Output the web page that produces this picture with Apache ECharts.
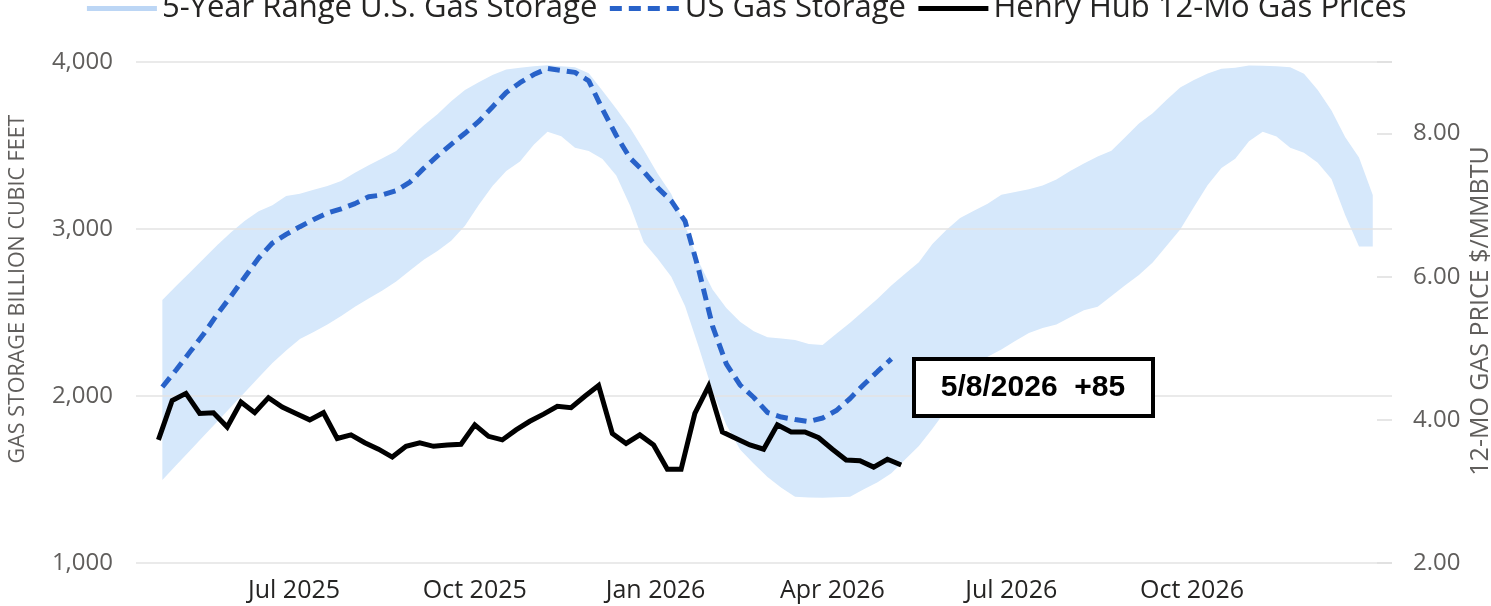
<!DOCTYPE html>
<html>
<head>
<meta charset="utf-8">
<script src="https://cdn.jsdelivr.net/npm/echarts@6/dist/echarts.min.js"></script>
<style>
html,body{margin:0;padding:0;background:#ffffff;}
#chart{width:1491px;height:606px;}
</style>
</head>
<body>
<div id="chart"></div>
<script>
// ---------------- DATA ----------------
// weekly series start dates (UTC)
const storageStart = '2025-04-25';
const priceStart = '2025-04-23';

// US Gas Storage (Bcf), weekly
const storage = [2054,2156,2263,2371,2491,2599,2713,2826,2916,2968,
  3014,3057,3095,3121,3152,3193,3204,3230,3281,3363,
  3438,3507,3573,3644,3731,3817,3876,3925,3961,3950,
  3938,3887,3717,3560,3425,3344,3248,3168,3048,2754,
  2419,2192,2066,1991,1901,1874,1859,1847,1868,1913,
  1985,2069,2147,2222];

// 5-year range (Bcf), weekly, high and low
const bandHigh = [2575,2659,2740,2822,2904,2980,3050,3107,3142,3198,
  3211,3235,3257,3287,3337,3381,3424,3467,3545,3620,
  3687,3765,3832,3878,3922,3955,3965,3975,3981,3975,
  3968,3932,3828,3720,3607,3473,3332,3210,3021,2802,
  2638,2527,2445,2387,2352,2344,2335,2311,2305,2373,
  2438,2511,2583,2662,2732,2801,2912,2994,3066,3110,
  3151,3205,3222,3238,3261,3296,3347,3392,3434,3469,
  3549,3632,3693,3772,3848,3892,3931,3959,3965,3979,
  3977,3974,3968,3929,3832,3710,3549,3428,3204];
const bandLow = [1497,1585,1672,1760,1848,1936,2023,2111,2198,2272,
  2341,2383,2428,2479,2534,2584,2631,2685,2751,2816,
  2868,2929,3020,3143,3258,3347,3404,3504,3582,3555,
  3487,3467,3419,3320,3140,2920,2823,2714,2539,2292,
  2030,1828,1680,1595,1515,1451,1397,1392,1391,1393,
  1397,1442,1483,1537,1620,1701,1806,1917,2028,2138,
  2235,2278,2330,2377,2407,2428,2471,2514,2534,2599,
  2663,2724,2799,2898,2997,3131,3263,3365,3421,3525,
  3583,3554,3486,3457,3397,3299,3083,2895,2895];

// Henry Hub 12-month strip price ($/MMBtu), weekly
const price = [3.72,4.27,4.37,4.09,4.10,3.90,4.25,4.10,4.31,4.18,
  4.09,4.00,4.10,3.74,3.79,3.68,3.59,3.48,3.63,3.68,
  3.63,3.65,3.66,3.93,3.77,3.72,3.86,3.98,4.08,4.19,
  4.17,4.33,4.48,3.81,3.67,3.79,3.65,3.31,3.31,4.09,
  4.47,3.83,3.74,3.65,3.59,3.93,3.83,3.83,3.75,3.59,
  3.44,3.43,3.34,3.45,3.37];

// x-axis tick dates and labels
const xTickDates = ['2025-07-01','2025-10-01','2026-01-01','2026-04-01','2026-07-01','2026-10-01'];
const xTickLabels = ['Jul 2025','Oct 2025','Jan 2026','Apr 2026','Jul 2026','Oct 2026'];
const rightTickLabels = {2:'2.00',4:'4.00',6:'6.00',8:'8.00'};

const seriesNames = ['5-Year Range U.S. Gas Storage','US Gas Storage','Henry Hub 12-Mo Gas Prices'];
const leftAxisTitle = 'GAS STORAGE BILLION CUBIC FEET';
const rightAxisTitle = '12-MO GAS PRICE $/MMBTU';
const annotationText = '5/8/2026  +85';

// ---------------- BUILD ----------------
const DAY = 86400000;
const toTs = s => Date.parse(s + 'T00:00:00Z');
const weekly = (start, i) => toTs(start) + i * 7 * DAY;

const bandRows = bandLow.map((v, i) => [weekly(storageStart, i), v, bandHigh[i]]);
const storagePairs = storage.map((v, i) => [weekly(storageStart, i), v]);
const pricePairs = price.map((v, i) => [weekly(priceStart, i), v]);
const xTickValues = xTickDates.map(toTs);

const FONT = '"Open Sans", "Noto Sans", sans-serif';
const BAND_FILL = '#D6E8FB';
const BAND_LEGEND = '#BCD6F5';

const chart = echarts.init(document.getElementById('chart'), null, {renderer: 'canvas'});
chart.setOption({
  animation: false,
  backgroundColor: '#ffffff',
  textStyle: {fontFamily: FONT},
  grid: {left: 136, right: 99, top: 62, bottom: 43, containLabel: false},
  legend: {
    top: -12,
    left: 'center',
    itemWidth: 70,
    itemHeight: 20,
    itemGap: 10,
    textStyle: {fontSize: 31, color: '#252423', fontFamily: FONT},
    itemStyle: {opacity: 0},
    lineStyle: {width: 5},
    data: seriesNames
  },
  xAxis: {
    type: 'value',
    min: Date.UTC(2025, 3, 11, 14),
    max: Date.UTC(2027, 0, 10, 19),
    axisLine: {show: false},
    axisTick: {show: false},
    splitLine: {show: false},
    axisLabel: {
      customValues: xTickValues,
      formatter: function (v) {
        const i = xTickValues.indexOf(v);
        return i >= 0 ? xTickLabels[i] : '';
      },
      fontSize: 25,
      color: '#252423',
      margin: 15,
      fontFamily: FONT,
      hideOverlap: false
    }
  },
  yAxis: [
    {
      type: 'value',
      position: 'left',
      z: 2,
      min: 1000, max: 4000, interval: 1000,
      axisLine: {show: false},
      axisTick: {show: false},
      splitLine: {lineStyle: {color: '#E3E3E3', width: 1.5}},
      axisLabel: {fontSize: 24, color: '#605E5C', margin: 23, fontFamily: FONT}
    },
    {
      type: 'value',
      position: 'right',
      z: 2,
      min: 2, max: 9, interval: 2,
      axisLine: {show: false},
      axisTick: {show: true, inside: true, length: 15, lineStyle: {color: '#DEDEDE', width: 1.5}},
      splitLine: {show: false},
      axisLabel: {
        formatter: v => rightTickLabels[v] || '',
        fontSize: 24, color: '#605E5C', margin: 21, fontFamily: FONT
      }
    }
  ],
  series: [
    {
      // legend swatch for the range band
      name: seriesNames[0],
      type: 'line',
      data: [],
      symbol: 'none',
      itemStyle: {color: BAND_LEGEND},
      lineStyle: {color: BAND_LEGEND, width: 5}
    },
    {
      name: seriesNames[0],
      type: 'custom',
      data: bandRows,
      encode: {x: 0, y: [1, 2]},
      silent: true,
      z: 1,
      itemStyle: {color: BAND_FILL},
      renderItem: function (params, api) {
        if (params.dataIndex !== 0) return null;
        const top = [], bottom = [];
        for (let i = 0; i < bandRows.length; i++) {
          top.push(api.coord([bandRows[i][0], bandRows[i][2]]));
          bottom.push(api.coord([bandRows[i][0], bandRows[i][1]]));
        }
        return {
          type: 'polygon',
          shape: {points: top.concat(bottom.reverse())},
          style: {fill: BAND_FILL, stroke: null},
          silent: true
        };
      }
    },
    {
      name: seriesNames[1],
      type: 'line',
      data: storagePairs,
      symbol: 'none',
      itemStyle: {color: '#2862C9'},
      lineStyle: {color: '#2862C9', width: 5, type: [12, 7], cap: 'butt'},
      z: 3
    },
    {
      name: seriesNames[2],
      type: 'line',
      yAxisIndex: 1,
      data: pricePairs,
      symbol: 'none',
      itemStyle: {color: '#000000'},
      lineStyle: {color: '#000000', width: 5, join: 'miter'},
      z: 4
    }
  ],
  graphic: [
    {
      type: 'text', x: 18, y: 289, rotation: Math.PI / 2, silent: true,
      style: {text: leftAxisTitle, fill: '#605E5C', font: '21.5px ' + FONT, align: 'center', verticalAlign: 'middle'}
    },
    {
      type: 'text', x: 1481, y: 311, rotation: Math.PI / 2, silent: true,
      style: {text: rightAxisTitle, fill: '#605E5C', font: '25px ' + FONT, align: 'center', verticalAlign: 'middle'}
    },
    {
      type: 'rect', z: 100, silent: true,
      shape: {x: 914, y: 359, width: 239, height: 57},
      style: {fill: '#ffffff', stroke: '#000000', lineWidth: 4}
    },
    {
      type: 'text', z: 101, silent: true, x: 1033, y: 388,
      style: {text: annotationText, fill: '#000000', font: 'bold 30px "Liberation Sans", Arial, sans-serif', align: 'center', verticalAlign: 'middle'}
    }
  ]
});
</script>
</body>
</html>
